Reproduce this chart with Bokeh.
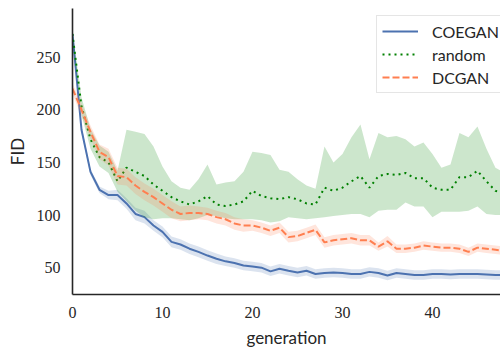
from bokeh.plotting import figure
from bokeh.models import Legend, LegendItem, FixedTicker, Range1d
from bokeh.embed import file_html
from bokeh.resources import INLINE

generation = list(range(49))

coegan_mean = [272, 181, 141, 124, 119, 119, 111, 101, 98, 90, 84, 74.5, 72, 68, 65, 61.5, 58.5, 56, 54.5, 52,
               51, 50, 46.5, 49, 47, 45.5, 47, 44, 45, 45.5, 45, 44, 44, 46, 45, 42.5, 45, 44, 43, 43,
               44, 44, 43.5, 44, 44, 44, 43.5, 43, 43]
coegan_std = [3, 3, 3, 3, 4, 5, 5, 6, 6, 5, 5, 5, 5, 5, 5, 5, 5, 4.5, 4.5, 4.5,
              4.5, 4.5, 4.5, 4.5, 4.5, 4.5, 4.5, 4.5, 4.5, 4.5, 4.5, 4.5, 4.5, 4.5, 4.5, 4.5, 4.5, 4.5, 4.5, 4.5,
              4.5, 4.5, 4.5, 4.5, 4.5, 4.5, 4.5, 4.5, 4.5]

random_mean = [272, 203, 172, 155, 150, 132, 145, 141, 137, 129, 123, 117, 113, 110, 113, 118, 110, 108.5, 110, 113,
               123, 118, 116, 115, 117, 115, 111, 110, 126, 123, 126, 132, 137, 126, 137, 139, 138, 140, 135, 135,
               126, 124, 124, 136, 136, 142, 132, 123, 120]
random_hi = [275, 212, 182, 166, 160, 142, 181, 179, 177, 165, 146, 132, 126, 124, 134, 148, 129, 131, 132, 141,
             160, 159, 157, 143, 141, 134, 128, 125, 165, 150, 158, 174, 186, 153, 178, 174, 175, 172, 165, 169,
             158, 145, 148, 178, 174, 184, 163, 145, 140]
random_lo = [268, 195, 163, 146, 140, 122, 113, 104, 98, 96, 97, 97, 96, 95, 97, 100, 99, 97, 96, 96,
             96, 95, 93, 94, 98, 97, 96, 97, 98, 99, 100, 101, 101, 98, 104, 105, 105, 112, 108, 108,
             98, 103, 103, 103, 104, 108, 101, 100, 100]

dcgan_mean = [220, 200, 179, 160, 155, 137, 136, 128, 122, 117, 111, 105, 101, 102, 102, 101, 98, 96, 92, 90,
              90, 88, 85, 88, 79, 80, 83, 86, 74, 76, 77, 78, 76, 76, 70, 75, 68, 68, 69, 71,
              70, 69, 69, 68, 65, 69, 68, 67, 66]
dcgan_std = [5, 6, 6, 7, 8, 8, 8, 8, 8, 8, 8, 8, 7, 7, 6, 6, 6, 6, 6, 6,
             5, 5, 5, 5, 5, 5, 5, 5, 5, 5, 5, 5, 5, 5, 4, 5, 4, 4, 4, 4,
             4, 4, 4, 4, 4, 4, 4, 4, 4]

x_ticks = [0, 10, 20, 30, 40]
y_ticks = [50, 100, 150, 200, 250]

BLUE = "#4c72b0"
GREEN = "#008000"
ORANGE = "#ff7f50"

p = figure(width=500, height=350, output_backend="svg", toolbar_location=None,
           x_range=Range1d(0, 47.56), y_range=Range1d(24.5, 296.2),
           min_border_top=8, min_border_right=0, min_border_left=72, min_border_bottom=54)

def band(mean, std):
    lo = [m - s for m, s in zip(mean, std)]
    hi = [m + s for m, s in zip(mean, std)]
    return lo, hi

c_lo, c_hi = band(coegan_mean, coegan_std)
d_lo, d_hi = band(dcgan_mean, dcgan_std)

p.varea(x=generation, y1=c_lo, y2=c_hi, fill_color=BLUE, fill_alpha=0.2)
l1 = p.line(generation, coegan_mean, line_color=BLUE, line_width=2)
p.varea(x=generation, y1=random_lo, y2=random_hi, fill_color=GREEN, fill_alpha=0.2)
l2 = p.line(generation, random_mean, line_color=GREEN, line_width=2, line_dash="2 4")
p.varea(x=generation, y1=d_lo, y2=d_hi, fill_color=ORANGE, fill_alpha=0.2)
l3 = p.line(generation, dcgan_mean, line_color=ORANGE, line_width=2, line_dash="7 3")

p.xgrid.visible = False
p.ygrid.visible = False
p.outline_line_color = None
p.background_fill_color = "white"

for ax in (p.xaxis[0], p.yaxis[0]):
    ax.axis_line_color = "#262626"
    ax.axis_line_width = 1.6
    ax.major_tick_line_color = None
    ax.minor_tick_line_color = None
    ax.major_tick_out = 0
    ax.major_label_text_font = "Liberation Serif"
    ax.major_label_text_font_size = "16px"
    ax.major_label_text_color = "#262626"
    ax.major_label_standoff = 12
    ax.axis_label_text_font = "Lato"
    ax.axis_label_text_font_size = "17px"
    ax.axis_label_text_font_style = "normal"
    ax.axis_label_text_color = "#262626"
    ax.axis_label_standoff = 6

p.xaxis[0].ticker = FixedTicker(ticks=x_ticks)
p.yaxis[0].ticker = FixedTicker(ticks=y_ticks)
p.xaxis[0].axis_label = "generation"
p.yaxis[0].axis_label = "FID"

legend = Legend(items=[LegendItem(label="COEGAN", renderers=[l1]),
                       LegendItem(label="random", renderers=[l2]),
                       LegendItem(label="DCGAN", renderers=[l3])],
                location=(304, 201))
legend.label_text_font = "Lato"
legend.label_text_font_size = "16px"
legend.label_text_color = "#262626"
legend.glyph_width = 36
legend.glyph_height = 20
legend.label_height = 20
legend.label_standoff = 14
legend.padding = 5
legend.spacing = 3
legend.margin = 0
legend.border_line_color = "#cccccc"
legend.border_line_width = 1
legend.background_fill_alpha = 0.8
p.add_layout(legend)

open("out.html", "w").write(file_html(p, INLINE))
